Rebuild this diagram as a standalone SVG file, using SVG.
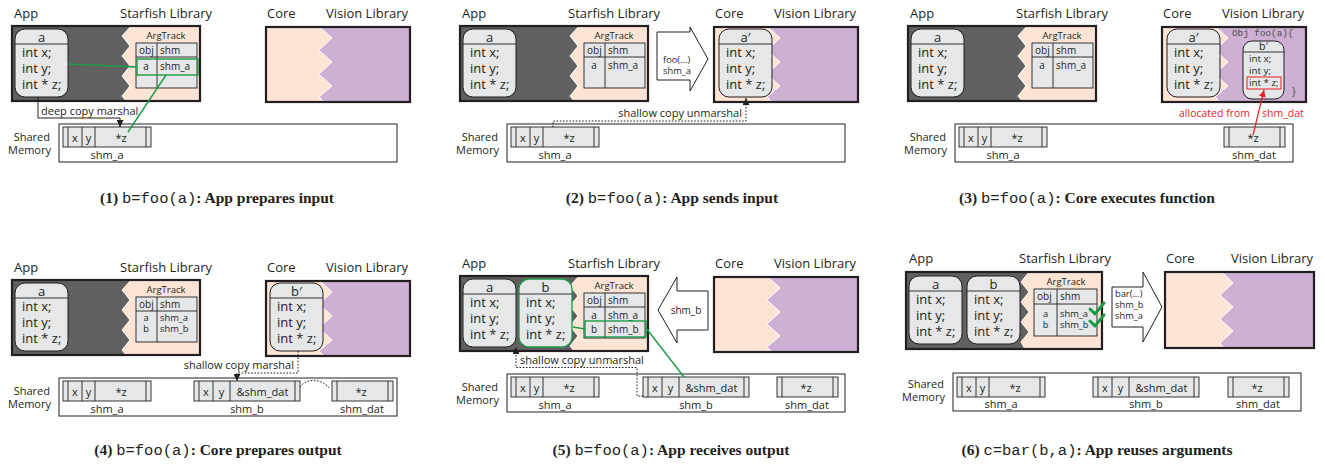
<svg xmlns="http://www.w3.org/2000/svg" width="1325" height="464" viewBox="0 0 1325 464">
<defs>
<style>
text{font-family:"Open Sans","Liberation Sans",sans-serif;fill:#231f20;stroke:none}
.lb{font-size:13px}
.ot{font-size:13px}
.oh{font-size:13px;text-anchor:middle}
.tt{font-size:10px}
.tc{font-size:10px;text-anchor:middle}
.ts{font-size:9.3px}
.tsc{font-size:9.3px;text-anchor:middle}
.at{font-size:9.5px;text-anchor:middle}
.sm{font-size:11px}
.se{font-size:11px;text-anchor:end}
.smc{font-size:11px;text-anchor:middle}
.ln{stroke:#231f20;stroke-width:0.9;fill:none}
.bd{fill:none;stroke:#231f20;stroke-width:2.2}
.cell{fill:#e6e7e8;stroke:#231f20;stroke-width:0.9}
.gr{stroke:#1d9a48;stroke-width:1.4;fill:none}
.dot{stroke:#231f20;stroke-width:1;fill:none;stroke-dasharray:1.6 1.6}
.sol{stroke:#231f20;stroke-width:1;fill:none}
.red{stroke:#ed1c24;stroke-width:1.2;fill:none}
.big{fill:#fff;stroke:#231f20;stroke-width:1}
.peach{fill:#fde4d5}
.purp{fill:#cdb0d3}
.dark{fill:#606060}
.zz{fill:none;stroke:#fff;stroke-width:1}
.chk{fill:none;stroke:#1d9a48;stroke-width:3;stroke-linecap:round;stroke-linejoin:round}
.cap{font-family:"Liberation Serif",serif;font-size:15.5px;font-weight:bold;text-anchor:middle}
.mono{font-family:"Liberation Mono",monospace;font-weight:normal}
</style>
<marker id="ah" viewBox="0 0 10 10" refX="10" refY="5" markerWidth="7" markerHeight="7" orient="auto" markerUnits="userSpaceOnUse"><path d="M0,0L10,5L0,10Z" fill="#231f20"/></marker>
<marker id="ahr" viewBox="0 0 10 10" refX="10" refY="5" markerWidth="7" markerHeight="7" orient="auto" markerUnits="userSpaceOnUse"><path d="M0,0L10,5L0,10Z" fill="#ed1c24"/></marker>
<g id="lbls">
<text class="lb" x="14" y="18">App</text>
<text class="lb" x="212" y="18" text-anchor="end">Starfish Library</text>
<text class="lb" x="267" y="18">Core</text>
<text class="lb" x="408" y="18" text-anchor="end">Vision Library</text>
</g>
<g id="appbox">
<rect class="dark" x="12" y="26" width="188" height="75"/>
<polygon class="peach" points="131,26 122,36 130,46 122,56 130,66 122,76 130,86 122,96 126,101 200,101 200,26"/>
<polyline class="zz" points="131,26 122,36 130,46 122,56 130,66 122,76 130,86 122,96 126,101"/>
<rect class="bd" x="12" y="26" width="188" height="75"/>
</g>
<g id="corebox">
<rect class="peach" x="266" y="27" width="144" height="75"/>
<polygon class="purp" points="320,27 332,38 319,50 332,62 319,74 332,86 319,97 324,102 410,102 410,27"/>
<polyline class="zz" points="320,27 332,38 319,50 332,62 319,74 332,86 319,97 324,102"/>
<rect class="bd" x="266" y="27" width="144" height="75"/>
</g>
<g id="tbl">
<text class="at" x="166" y="39">ArgTrack</text>
<rect class="cell" x="136" y="43" width="61" height="45"/>
<path class="ln" d="M136,57H197M157,43V88"/>
<text class="tt" x="139" y="54">obj</text>
<text class="tt" x="160" y="54">shm</text>
</g>
<g id="obj">
<rect width="53" height="68" rx="10" fill="#e6e7e8"/>
<path d="M0,15H53" stroke="#231f20" stroke-width="0.9"/>
<text class="ot" x="7" y="28">int x;</text>
<text class="ot" x="7" y="44">int y;</text>
<text class="ot" x="7" y="60">int * z;</text>
</g>
<g id="shbox">
<text class="se" x="50" y="141">Shared</text>
<text class="se" x="51" y="154">Memory</text>
<rect x="59" y="124" width="338" height="38" fill="#fff" stroke="#231f20" stroke-width="1"/>
</g>
<g id="segA">
<rect class="cell" width="88" height="20"/>
<path class="ln" d="M5,0V20M19,0V20M32,0V20M83,0V20"/>
<text class="smc" x="12" y="15">x</text><text class="smc" x="25.5" y="15">y</text><text class="smc" x="58" y="15">*z</text>
</g>
<g id="segB">
<rect class="cell" width="106" height="20"/>
<path class="ln" d="M5,0V20M19,0V20M36,0V20M101,0V20"/>
<text class="smc" x="12" y="15">x</text><text class="smc" x="27.5" y="15">y</text><text class="smc" x="68.5" y="15">&amp;shm_dat</text>
</g>
<g id="segD">
<rect class="cell" width="61" height="20"/>
<path class="ln" d="M5,0V20M56,0V20"/>
<text class="smc" x="29" y="15">*z</text>
</g>
</defs>
<rect width="1325" height="464" fill="#fff"/>

<!-- Panel 1 -->
<g id="panel1">
<use href="#lbls"/>
<use href="#appbox"/>
<use href="#obj" x="15" y="29" stroke="#231f20" stroke-width="1"/>
<text class="oh" x="41.5" y="42">a</text>
<use href="#tbl"/>
<text class="tc" x="146" y="70">a</text><text class="tt" x="160" y="70">shm_a</text>
<rect class="gr" x="137" y="59" width="61" height="16"/>
<use href="#corebox"/>
<use href="#shbox"/>
<use href="#segA" x="63" y="127"/>
<text class="smc" x="107" y="159">shm_a</text>
<text class="cap" x="217" y="203">(1) <tspan class="mono">b=foo(a)</tspan>: App prepares input</text>
</g>

<!-- Panel 2 -->
<g id="panel2" transform="translate(448,0)">
<use href="#lbls"/>
<use href="#appbox"/>
<use href="#obj" x="15" y="29" stroke="#231f20" stroke-width="1"/>
<text class="oh" x="41.5" y="42">a</text>
<use href="#tbl"/>
<text class="tc" x="146" y="69">a</text><text class="tt" x="160" y="69">shm_a</text>
<path class="big" d="M209,32H242V27L260,59L242,91V80H209Z"/>
<text class="ts" x="215" y="63">foo(...)</text>
<text class="ts" x="215" y="74">shm_a</text>
<use href="#corebox"/>
<use href="#obj" x="271" y="29" stroke="#231f20" stroke-width="1"/>
<text class="oh" x="297.5" y="42">a′</text>
<use href="#shbox"/>
<use href="#segA" x="63" y="127"/>
<text class="smc" x="107" y="159">shm_a</text>
<text class="cap" x="224" y="203">(2) <tspan class="mono">b=foo(a)</tspan>: App sends input</text>
</g>

<!-- Panel 3 -->
<g id="panel3" transform="translate(896,0)">
<use href="#lbls"/>
<use href="#appbox"/>
<use href="#obj" x="15" y="29" stroke="#231f20" stroke-width="1"/>
<text class="oh" x="41.5" y="42">a</text>
<use href="#tbl"/>
<text class="tc" x="146" y="69">a</text><text class="tt" x="160" y="69">shm_a</text>
<use href="#corebox"/>
<use href="#obj" x="271" y="29" stroke="#231f20" stroke-width="1"/>
<text class="oh" x="297.5" y="42">a′</text>
<text x="336" y="36" style="font-family:'Liberation Mono',monospace;font-size:9.3px;fill:#4d4d4d">Obj foo(a){</text>
<rect x="347" y="41" width="41" height="58" rx="9" fill="#e6e7e8" stroke="#231f20" stroke-width="1"/>
<path class="ln" d="M347,52H388"/>
<text x="367.5" y="50" text-anchor="middle" style="font-size:10.5px">b′</text>
<text x="353" y="62" style="font-size:9.8px">int x;</text>
<text x="353" y="74" style="font-size:9.8px">int y;</text>
<text x="353" y="86" style="font-size:9.8px">int * z;</text>
<rect x="351" y="77" width="34" height="12" fill="none" stroke="#ed1c24" stroke-width="1"/>
<text x="396" y="95" style="font-size:10px;fill:#4d4d4d">}</text>
<use href="#shbox"/>
<use href="#segA" x="63" y="127"/>
<text class="smc" x="107" y="159">shm_a</text>
<use href="#segD" x="328" y="127"/>
<text class="smc" x="358" y="159">shm_dat</text>
<text x="354" y="117" text-anchor="end" style="font-size:10.5px;fill:#ed1c24">allocated from</text>
<text x="366" y="117" style="font-size:10.5px;fill:#ed1c24">shm_dat</text>
<text class="cap" x="191" y="203">(3) <tspan class="mono">b=foo(a)</tspan>: Core executes function</text>
</g>

<!-- Panel 4 -->
<g id="panel4" transform="translate(0,254)">
<use href="#lbls"/>
<use href="#appbox"/>
<use href="#obj" x="15" y="29" stroke="#231f20" stroke-width="1"/>
<text class="oh" x="41.5" y="42">a</text>
<use href="#tbl"/>
<text class="tsc" x="146" y="67">a</text><text class="ts" x="160" y="67">shm_a</text>
<text class="tsc" x="146" y="78">b</text><text class="ts" x="160" y="78">shm_b</text>
<use href="#corebox"/>
<use href="#obj" x="270" y="29" stroke="#231f20" stroke-width="1"/>
<text class="oh" x="296.5" y="42">b′</text>
<use href="#shbox"/>
<use href="#segA" x="63" y="127"/>
<text class="smc" x="107" y="159">shm_a</text>
<use href="#segB" x="194" y="127"/>
<text class="smc" x="247" y="159">shm_b</text>
<use href="#segD" x="332" y="127"/>
<text class="smc" x="362" y="159">shm_dat</text>
<text class="cap" x="218" y="201">(4) <tspan class="mono">b=foo(a)</tspan>: Core prepares output</text>
</g>

<!-- Panel 5 -->
<g id="panel5" transform="translate(448,250)">
<use href="#lbls"/>
<use href="#appbox"/>
<use href="#obj" x="15" y="29" stroke="#231f20" stroke-width="1"/>
<text class="oh" x="41.5" y="42">a</text>
<use href="#obj" x="71" y="29" stroke="#1d9a48" stroke-width="1.3"/>
<text class="oh" x="97.5" y="42">b</text>
<use href="#tbl"/>
<text class="tc" x="146" y="69">a</text><text class="tt" x="160" y="69">shm_a</text>
<text class="tc" x="146" y="83">b</text><text class="tt" x="160" y="83">shm_b</text>
<rect class="gr" x="137" y="71" width="61" height="16"/>
<path class="big" d="M210,60L229,27V41H260V80H229V93Z"/>
<text class="tc" x="238" y="64">shm_b</text>
<use href="#corebox"/>
<use href="#shbox"/>
<use href="#segA" x="63" y="127"/>
<text class="smc" x="107" y="159">shm_a</text>
<use href="#segB" x="195" y="127"/>
<text class="smc" x="248" y="159">shm_b</text>
<use href="#segD" x="329" y="127"/>
<text class="smc" x="359" y="159">shm_dat</text>
<text class="cap" x="223" y="205">(5) <tspan class="mono">b=foo(a)</tspan>: App receives output</text>
</g>

<!-- Panel 6 -->
<g id="panel6">
<text class="lb" x="909" y="263">App</text>
<text class="lb" x="1111" y="263" text-anchor="end">Starfish Library</text>
<text class="lb" x="1166" y="263">Core</text>
<text class="lb" x="1313" y="263" text-anchor="end">Vision Library</text>
<rect class="dark" x="906" y="272" width="196" height="77"/>
<polygon class="peach" points="1029,272 1021,282 1029,292 1021,302 1029,312 1021,322 1029,332 1021,342 1025,349 1102,349 1102,272"/>
<polyline class="zz" points="1029,272 1021,282 1029,292 1021,302 1029,312 1021,322 1029,332 1021,342 1025,349"/>
<rect class="bd" x="906" y="272" width="196" height="77"/>
<use href="#obj" x="909" y="276" stroke="#231f20" stroke-width="1"/>
<text class="oh" x="935.5" y="289">a</text>
<use href="#obj" x="967" y="276" stroke="#231f20" stroke-width="1"/>
<text class="oh" x="993.5" y="289">b</text>
<text class="at" x="1066" y="285">ArgTrack</text>
<rect class="cell" x="1034" y="289" width="63" height="47"/>
<path class="ln" d="M1034,304H1097M1057,289V336"/>
<text class="tt" x="1037" y="300">obj</text>
<text class="tt" x="1060" y="300">shm</text>
<text class="tsc" x="1045.5" y="317">a</text><text class="ts" x="1060" y="317">shm_a</text>
<text class="tsc" x="1045.5" y="328">b</text><text class="ts" x="1060" y="328">shm_b</text>
<path class="chk" d="M1090,309L1095,314L1104,303"/>
<path class="chk" d="M1090,321L1095,326L1104,315"/>
<path class="big" d="M1112,287H1143V272L1162,307L1143,342V327H1112Z"/>
<text class="ts" x="1115" y="297">bar(...)</text>
<text class="ts" x="1115" y="308">shm_b</text>
<text class="ts" x="1115" y="319">shm_a</text>
<rect class="peach" x="1165" y="272" width="149" height="76"/>
<polygon class="purp" points="1222,272 1233,283 1220,295 1233,307 1220,319 1233,331 1220,343 1224,348 1314,348 1314,272"/>
<polyline class="zz" points="1222,272 1233,283 1220,295 1233,307 1220,319 1233,331 1220,343 1224,348"/>
<rect class="bd" x="1165" y="272" width="149" height="76"/>
<text class="se" x="944" y="388">Shared</text>
<text class="se" x="945" y="401">Memory</text>
<rect x="953" y="373" width="348" height="38" fill="#fff" stroke="#231f20" stroke-width="1"/>
<use href="#segA" x="957" y="377"/>
<text class="smc" x="1001" y="408">shm_a</text>
<use href="#segB" x="1093" y="377"/>
<text class="smc" x="1146" y="408">shm_b</text>
<use href="#segD" x="1228" y="377"/>
<text class="smc" x="1258" y="408">shm_dat</text>
<text class="cap" x="1097" y="455">(6) <tspan class="mono">c=bar(b,a)</tspan>: App reuses arguments</text>
</g>

<!-- Connectors -->
<g id="connectors">
<g transform="translate(0,0)">
<path class="gr" d="M68,64L137,67"/>
<path class="gr" d="M166,75L128,132"/>
<polyline class="sol" points="38,97 38,118 120,118 120,127" marker-end="url(#ah)"/>
<text class="sm" x="41" y="115">deep copy marshal</text>
</g>
<g transform="translate(448,0)">
<polyline class="dot" points="105,127 105,121 298,121 298,98" marker-end="url(#ah)"/>
<text class="se" x="294" y="117">shallow copy unmarshal</text>
</g>
<g transform="translate(896,0)">
<path class="red" d="M357,135L368,90" marker-end="url(#ahr)"/>
</g>
<g transform="translate(0,254)">
<polyline class="dot" points="298,97 298,119 237,119 237,127" marker-end="url(#ah)"/>
<text class="se" x="294" y="115">shallow copy marshal</text>
<path class="dot" d="M300,133C306,124 322,124 330,135"/>
</g>
<g transform="translate(448,250)">
<path class="gr" d="M125,77L137,79"/>
<path class="gr" d="M198,78L236,127"/>
<polyline class="dot" points="195,146 189,146 189,117.5 68,117.5 68,97" marker-end="url(#ah)"/>
<text class="sm" x="72" y="114">shallow copy unmarshal</text>
</g>
</g>
</svg>
